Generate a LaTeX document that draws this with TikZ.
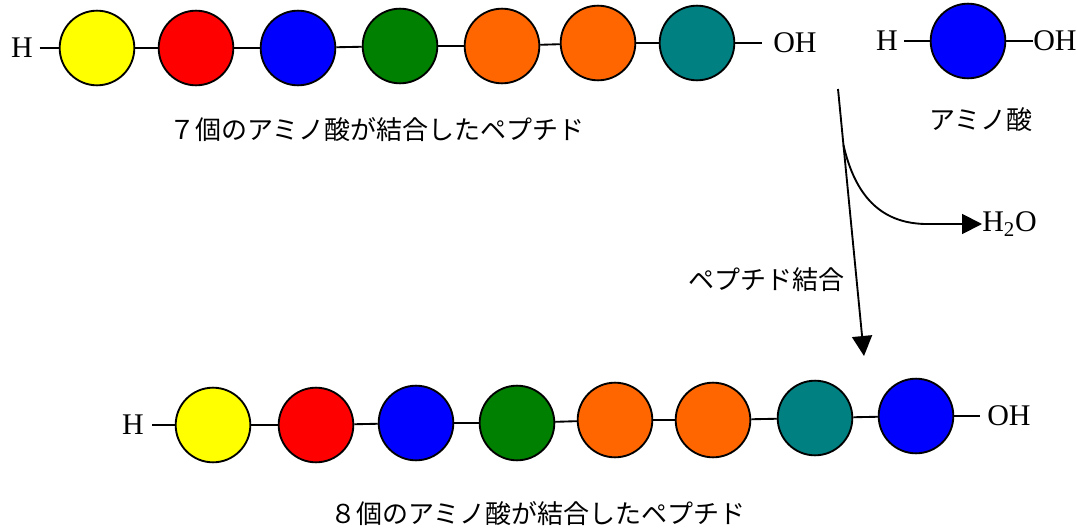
\documentclass[tikz,border=0pt]{standalone}
\usepackage{fontspec}
\setmainfont{Liberation Serif}
\newfontfamily\jp{Noto Sans CJK JP}
\usetikzlibrary{arrows.meta,calc}
\definecolor{cyel}{HTML}{FFFF00}
\definecolor{cred}{HTML}{FF0000}
\definecolor{cblue}{HTML}{0000FF}
\definecolor{cgreen}{HTML}{008000}
\definecolor{corange}{HTML}{FF6600}
\definecolor{cteal}{HTML}{008080}
\begin{document}
\begin{tikzpicture}[x=0.75pt,y=-0.75pt,
  aa/.style={circle,draw,line width=1.4pt,minimum size=56pt,inner sep=0pt},
  bond/.style={line width=1.4pt},
  lat/.style={font=\fontsize{22.5}{22.5}\selectfont,inner sep=0pt},
  jtxt/.style={font=\jp\fontsize{19.5}{21}\selectfont,inner sep=0pt},
  arr/.style={line width=1.4pt}]
\useasboundingbox (0,0) rectangle (1077,528);

% top peptide (7)
\node[aa,fill=cyel]    (t1) at (97,48) {};
\node[aa,fill=cred]    (t2) at (196,48) {};
\node[aa,fill=cblue]   (t3) at (298,48) {};
\node[aa,fill=cgreen]  (t4) at (400,46) {};
\node[aa,fill=corange] (t5) at (502,46) {};
\node[aa,fill=corange] (t6) at (598,43) {};
\node[aa,fill=cteal]   (t7) at (697,43) {};
\node[lat,anchor=east] (tH) at (33,48) {H};
\node[lat,anchor=west] (tOH) at (773,43) {OH};
\draw[bond,shorten <=5pt] (tH.east) -- (t1);
\draw[bond] (t1) -- (t2);
\draw[bond] (t2) -- (t3);
\draw[bond] (t3) -- (t4);
\draw[bond] (t4) -- (t5);
\draw[bond] (t5) -- (t6);
\draw[bond] (t6) -- (t7);
\draw[bond,shorten >=8pt] (t7) -- (tOH.west);
\node[jtxt] (cap7) at (377,130) {７個のアミノ酸が結合したペプチド};

% single amino acid
\node[aa,fill=cblue] (a1) at (968,41) {};
\node[lat,anchor=east] (aH) at (898,41) {H};
\node[lat,anchor=west] (aOH) at (1033,41) {OH};
\draw[bond,shorten <=4.5pt] (aH.east) -- (a1);
\draw[bond] (a1) -- (aOH.west);
\node[jtxt] (capa) at (981,120) {アミノ酸};

% reaction arrow
\coordinate (s) at (838,89);
\coordinate (e) at (864,356);
\coordinate (br) at ($(s)!0.21!(e)$);
\draw[arr,-{Triangle[width=15pt,length=15pt]}] (s) -- (e);
\node[lat,anchor=west] (h2o) at (982,224) {H\textsubscript{2}O};
\draw[arr,-{Triangle[width=15pt,length=15pt]}] (br) .. controls (855,195) and (880,223) .. (925,224) -- (h2o.west);
\node[jtxt] (capb) at (766,280) {ペプチド結合};

% bottom peptide (8)
\node[aa,fill=cyel]    (b1) at (213,425) {};
\node[aa,fill=cred]    (b2) at (316,425) {};
\node[aa,fill=cblue]   (b3) at (416,423) {};
\node[aa,fill=cgreen]  (b4) at (517,423) {};
\node[aa,fill=corange] (b5) at (615,420) {};
\node[aa,fill=corange] (b6) at (713,420) {};
\node[aa,fill=cteal]   (b7) at (815,418) {};
\node[aa,fill=cblue]   (b8) at (916,416) {};
\node[lat,anchor=east] (bH) at (144,425) {H};
\node[lat,anchor=west] (bOH) at (987,416) {OH};
\draw[bond,shorten <=6pt] (bH.east) -- (b1);
\draw[bond] (b1) -- (b2);
\draw[bond] (b2) -- (b3);
\draw[bond] (b3) -- (b4);
\draw[bond] (b4) -- (b5);
\draw[bond] (b5) -- (b6);
\draw[bond] (b6) -- (b7);
\draw[bond] (b7) -- (b8);
\draw[bond,shorten >=5pt] (b8) -- (bOH.west);
\node[jtxt] (cap8) at (538,514) {８個のアミノ酸が結合したペプチド};
\end{tikzpicture}
\end{document}
